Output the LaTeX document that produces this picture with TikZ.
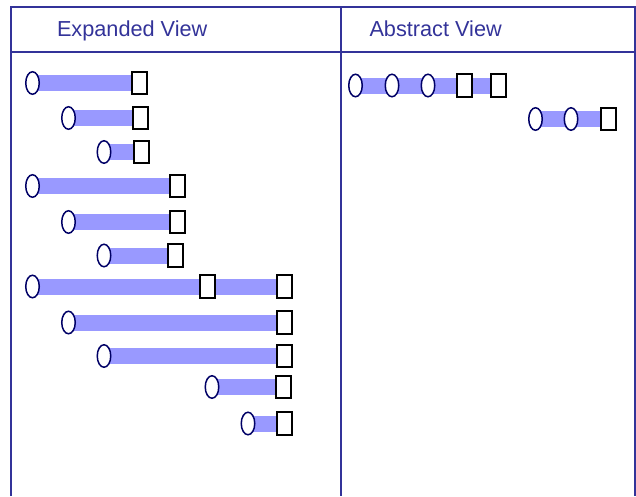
\documentclass[tikz,border=0pt]{standalone}
\usepackage{fontspec}
\setmainfont{Liberation Sans}
\usetikzlibrary{shapes.geometric, positioning, backgrounds}
\definecolor{colorMarco}{HTML}{333399}
\definecolor{colorBarra}{HTML}{9999FF}
\definecolor{colorInicio}{HTML}{000066}

\begin{document}
\begin{tikzpicture}[x=1pt, y=-1pt,
        inicio/.style={ellipse, draw=colorInicio, line width=1.5pt, fill=white,
            minimum width=13.5pt, minimum height=22.5pt, inner sep=0pt},
        fin/.style={rectangle, draw=black, line width=2pt, fill=white,
            minimum width=15pt, minimum height=22.5pt, inner sep=0pt},
        barra/.style={colorBarra, line width=16pt},
        marco/.style={colorMarco, line width=1.8pt},
        titulo/.style={colorMarco, anchor=base west, inner sep=0pt,
            font=\fontsize{21.7}{26}\selectfont}]
        \useasboundingbox (0,0) rectangle (636,496);
        % marco y cabecera
        \draw[marco] (11,496) |- (635,7) -- (635,496);
        \draw[marco] (11,52) -- (635,52);
        \draw[marco] (341,7) -- (341,496);
        \node[titulo] (te) at (56.8,36)  {Expanded View};
        \node[titulo] (ta) at (369.3,36) {Abstract View};
        % vista expandida
        \foreach \i/\y/\xa/\xb in {1/83/32.5/139.5, 2/118/68.5/140, 3/152/104/141,
                                   4/186/32.5/177, 5/222/68.5/177, 6/255.5/104/175,
                                   7/286.5/32.5/284.5, 8/322.5/68.5/284.5, 9/356/104/284.5,
                                   10/387/212/283, 11/423.5/248/284.5} {
            \node[inicio] (e\i) at (\xa,\y) {};
            \node[fin]    (f\i) at (\xb,\y) {};
            \begin{scope}[on background layer]
                \draw[barra] (e\i.center) -- (f\i.center);
            \end{scope}
        }
        \node[fin] (f7m) at (207.5,286.5) {};
        % vista abstracta
        \node[inicio] (a1) at (355.5,85.5) {};
        \node[inicio] (a2) at (392,85.5)   {};
        \node[inicio] (a3) at (428,85.5)   {};
        \node[fin]    (b1) at (464.5,85.5) {};
        \node[fin]    (b2) at (498.5,85.5) {};
        \node[inicio] (a4) at (535.5,119)  {};
        \node[inicio] (a5) at (571,119)    {};
        \node[fin]    (b3) at (608,119)    {};
        \begin{scope}[on background layer]
            \draw[barra] (a1.center) -- (b2.center);
            \draw[barra] (a4.center) -- (b3.center);
        \end{scope}
    \end{tikzpicture}
\end{document}
